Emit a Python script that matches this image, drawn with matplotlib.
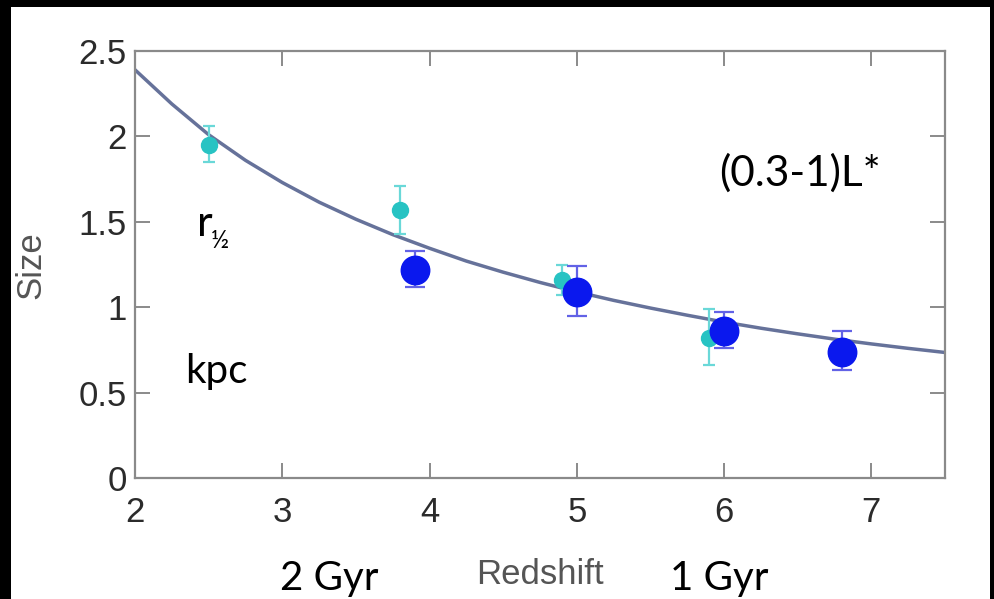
import numpy as np
import matplotlib
matplotlib.use('Agg')
import matplotlib.pyplot as plt
from matplotlib.patches import Rectangle

# size-redshift data, two luminosity samples
z_cyan = [2.5, 3.8, 4.9, 5.9]
size_cyan = [1.95, 1.57, 1.16, 0.82]
err_cyan_lo = [0.10, 0.14, 0.09, 0.16]
err_cyan_hi = [0.11, 0.14, 0.09, 0.17]

z_blue = [3.9, 5.0, 6.0, 6.8]
size_blue = [1.22, 1.09, 0.86, 0.74]
err_blue_lo = [0.10, 0.14, 0.10, 0.11]
err_blue_hi = [0.11, 0.15, 0.11, 0.12]

# fitted trend, read at quarter-unit steps in redshift
z_fit = [2.0, 2.25, 2.5, 2.75, 3.0, 3.25, 3.5, 3.75, 4.0, 4.25, 4.5, 4.75,
         5.0, 5.25, 5.5, 5.75, 6.0, 6.25, 6.5, 6.75, 7.0, 7.25, 7.5]
size_fit = [2.39, 2.19, 2.01, 1.86, 1.73, 1.615, 1.515, 1.425, 1.345, 1.27,
            1.205, 1.145, 1.09, 1.04, 0.995, 0.953, 0.913, 0.877, 0.844,
            0.813, 0.785, 0.759, 0.735]

xticks = [2, 3, 4, 5, 6, 7]
yticks = [0, 0.5, 1, 1.5, 2, 2.5]
yticklabels = ['0', '0.5', '1', '1.5', '2', '2.5']

W, H = 994, 599
fig = plt.figure(figsize=(W / 100, H / 100), dpi=100, facecolor='black')
fig.patches.append(Rectangle((11 / W, 0), (990 - 11) / W, 1 - 7 / H,
                             transform=fig.transFigure, facecolor='white',
                             edgecolor='none', zorder=-10))

ax = fig.add_axes([135 / W, 1 - 478 / H, (945 - 135) / W, (478 - 51) / H])
ax.set_facecolor('white')

ax.plot(z_fit, size_fit, color='#66729a', lw=2.5, zorder=2,
        solid_joinstyle='round')

ax.errorbar(z_cyan, size_cyan, yerr=[err_cyan_lo, err_cyan_hi], fmt='o',
            color='#27c3c3', ms=11.5, ecolor='#6ad8d8', elinewidth=1.6,
            capsize=4, capthick=1.6, zorder=3)
ax.errorbar(z_blue, size_blue, yerr=[err_blue_lo, err_blue_hi], fmt='o',
            color='#0a18ee', ms=20.5, ecolor='#6262e6', elinewidth=1.6,
            capsize=7.5, capthick=1.6, zorder=4)

ax.set_xlim(2, 7.5)
ax.set_ylim(0, 2.5)
ax.set_xticks(xticks)
ax.set_yticks(yticks)
ax.set_yticklabels(yticklabels)

for s in ax.spines.values():
    s.set_color('#8a8a8a')
    s.set_linewidth(1.6)

ax.tick_params(direction='in', length=11, width=1.4, color='#8a8a8a',
               top=True, right=True, labelsize=25, labelcolor='#2b2b2b')
ax.tick_params(axis='x', pad=13)
ax.tick_params(axis='y', pad=6)
for lab in ax.get_xticklabels() + ax.get_yticklabels():
    lab.set_family('Liberation Sans')

ax.set_xlabel('Redshift', fontsize=25, color='#555555', family='Liberation Sans')
ax.set_ylabel('Size', fontsize=25, color='#555555', family='Liberation Sans')
ax.xaxis.set_label_coords((540 - 135) / (945 - 135), -(574 - 478) / (478 - 51))
ax.yaxis.set_label_coords(-(135 - 31) / (945 - 135), (478 - 265) / (478 - 51))
for lab in (ax.xaxis.label, ax.yaxis.label):
    lab.set_horizontalalignment('center')
    lab.set_verticalalignment('center')

# slide annotations
tfont = dict(family=['Lato', 'DejaVu Sans'], color='black')
fig.text(197 / W, 1 - 236 / H, 'r', fontsize=31, **tfont)
fig.text(211 / W, 1 - 248 / H, '½', fontsize=18, **tfont)
fig.text(185 / W, 1 - 383 / H, 'kpc', fontsize=29, **tfont)
fig.text(719 / W, 1 - 186 / H, '(0.3-1)L*', fontsize=30.5, **tfont)
fig.text(280 / W, 1 - 590 / H, '2 Gyr', fontsize=29, **tfont)
fig.text(670 / W, 1 - 590 / H, '1 Gyr', fontsize=29, **tfont)

fig.savefig('out.png', dpi=100, facecolor='black')
